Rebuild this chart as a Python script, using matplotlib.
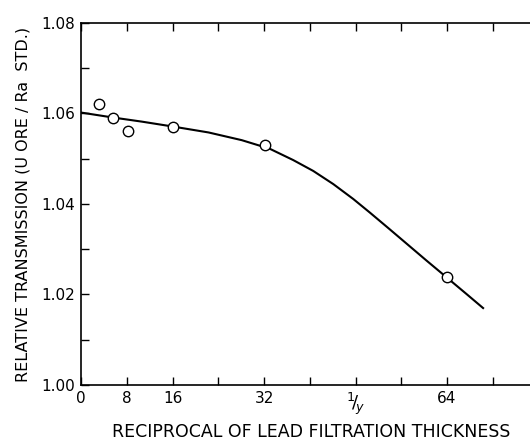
import matplotlib
matplotlib.use("Agg")
import matplotlib.pyplot as plt
import numpy as np

# measured points (1/y, relative transmission)
pts_x = [3.15, 5.65, 8.16, 16.1, 32.2, 64.0]
pts_y = [1.0621, 1.0591, 1.0561, 1.0571, 1.0530, 1.0239]

# hand-drawn smooth curve
curve_x = [0.0, 5.6, 10.6, 16.1, 22.3, 28.1, 33.0, 37.1, 40.6, 44.1, 47.6,
           50.5, 53.7, 56.4, 60.4, 64.0, 67.4, 70.3]
curve_y = [1.0602, 1.0591, 1.0582, 1.0571, 1.0558, 1.0541, 1.0522, 1.0497,
           1.0473, 1.0444, 1.0411, 1.0381, 1.0347, 1.0318, 1.0275, 1.0237,
           1.0201, 1.0170]

xticks = [0, 8, 16, 24, 32, 40, 48, 56, 64, 72]
xlabels = ["0", "8", "16", "", "32", "", r"$^{1}\!/\!_{y}$", "", "64", ""]
yticks = [1.00, 1.02, 1.04, 1.06, 1.08]
ylabels = ["1.00", "1.02", "1.04", "1.06", "1.08"]

plt.rcParams["font.family"] = ["DejaVu Sans"]

fig = plt.figure(figsize=(5.3, 4.41), dpi=100)
ax = fig.add_axes([0.1528, 0.127, 0.8472, 0.821])

ax.plot(curve_x, curve_y, color="black", lw=1.5, zorder=2,
        solid_joinstyle="round")
ax.plot(pts_x, pts_y, "o", ms=7.5, mfc="white", mec="black", mew=1.0, zorder=3)

ax.set_xlim(0, 78.5)
ax.set_ylim(1.00, 1.08)

ax.set_xticks(xticks)
ax.set_xticklabels(xlabels, fontsize=11)
ax.get_xticklabels()[6].set_fontsize(13)
ax.set_yticks(yticks)
ax.set_yticklabels(ylabels, fontsize=11)
ax.set_yticks(np.arange(1.01, 1.08, 0.02), minor=True)

ax.tick_params(axis="both", which="both", direction="in", length=6, width=1.0,
               top=True, right=False, labeltop=False, pad=4)
ax.spines["right"].set_visible(False)
for s in ["left", "bottom", "top"]:
    ax.spines[s].set_linewidth(1.2)

ax.set_xlabel("RECIPROCAL OF LEAD FILTRATION THICKNESS", fontsize=12.5)
ax.xaxis.set_label_coords(0.512, -0.105)
ax.set_ylabel("RELATIVE TRANSMISSION (U ORE / Ra  STD.)", fontsize=11.5, labelpad=8)

fig.savefig("out.png", dpi=100)
